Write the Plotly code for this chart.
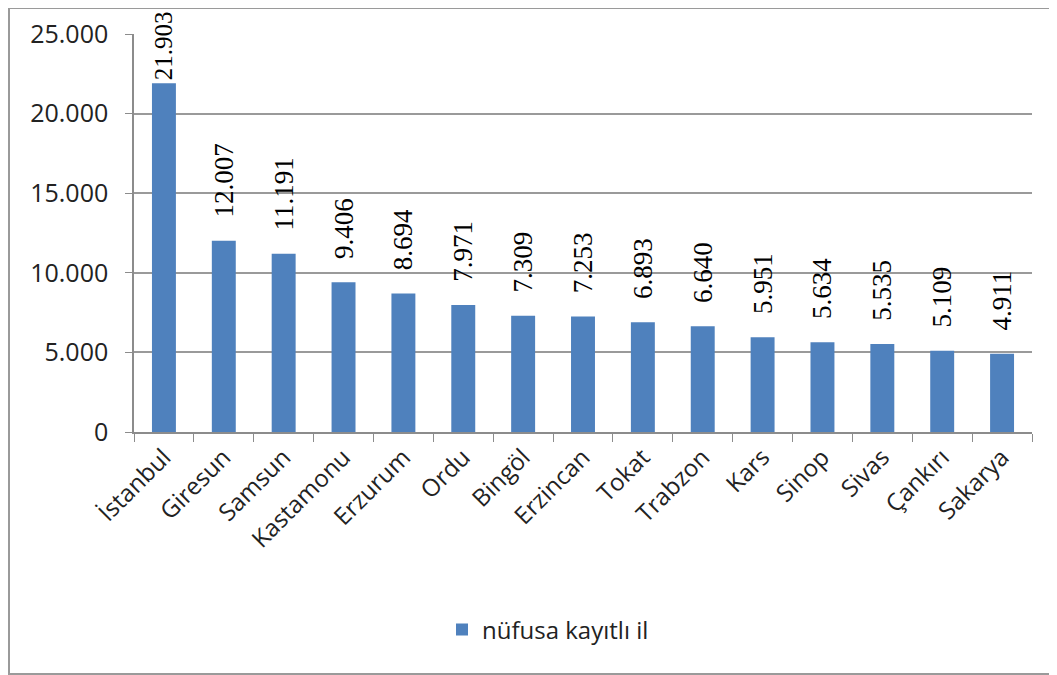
import plotly.graph_objects as go

provinces = ["İstanbul", "Giresun", "Samsun", "Kastamonu", "Erzurum", "Ordu", "Bingöl",
             "Erzincan", "Tokat", "Trabzon", "Kars", "Sinop", "Sivas", "Çankırı", "Sakarya"]
values = [21903, 12007, 11191, 9406, 8694, 7971, 7309, 7253, 6893, 6640, 5951, 5634, 5535, 5109, 4911]
series_name = "nüfusa kayıtlı il"
y_ticks = [0, 5000, 10000, 15000, 20000, 25000]

# page body has an 8px offset; compensate so the plot area lands where the reference has it
OFF = 8
W, H = 1057 - OFF, 675 - OFF
L, T = 134 - OFF, 34 - OFF
pw, ph = 898, 398
R, B = W - L - pw, H - T - ph

pad = "\u00a0\u00a0\u00a0"
templates = ["%{y:,d}"] + [pad + "%{y:,d}"] * (len(values) - 1)
label_sizes = [25] + [27] * (len(values) - 1)

fig = go.Figure(go.Bar(
    x=provinces, y=values, name=series_name,
    marker=dict(color="#4F81BD", line=dict(width=0)),
    texttemplate=templates, textposition="outside", textangle=-90,
    constraintext="none",
    textfont=dict(family="Liberation Serif", size=label_sizes, color="#000000"),
    cliponaxis=False, showlegend=True,
))

fig.update_layout(
    width=W, height=H,
    margin=dict(l=L, r=R, t=T, b=B, autoexpand=False),
    paper_bgcolor="white", plot_bgcolor="white",
    separators=",.",
    bargap=0.6,
    font=dict(family="Open Sans", color="#222222"),
    legend=dict(orientation="h", x=(548 - 134) / pw, xanchor="center",
                y=(432 - 630) / ph, yanchor="middle",
                font=dict(size=24, family="Open Sans", color="#222222")),
    xaxis=dict(type="category", tickson="boundaries", ticks="outside", ticklen=8,
               tickcolor="#8c8c8c", showline=True, linecolor="#8c8c8c", linewidth=1.5,
               tickangle=-45, tickfont=dict(size=24, color="#222222"), showgrid=False,
               automargin=False),
    yaxis=dict(range=[0, 25000], tickvals=y_ticks, tickformat=",d", ticks="outside",
               ticklen=7, tickcolor="#8c8c8c", showline=True, linecolor="#8c8c8c",
               linewidth=1.5, showgrid=True, gridcolor="#9a9a9a", gridwidth=1.5,
               ticklabelstandoff=12,
               tickfont=dict(size=25, color="#222222"), zeroline=False, automargin=False),
    shapes=[dict(type="rect", xref="paper", yref="paper",
                 x0=(1 - L) / pw, x1=(W + 10 - L) / pw,
                 y0=(H - B - (H - 1)) / ph, y1=(H - B - 0) / ph,
                 line=dict(color="#9a9a9a", width=2), fillcolor="rgba(0,0,0,0)", layer="below")],
)

fig.write_html("out.html")
